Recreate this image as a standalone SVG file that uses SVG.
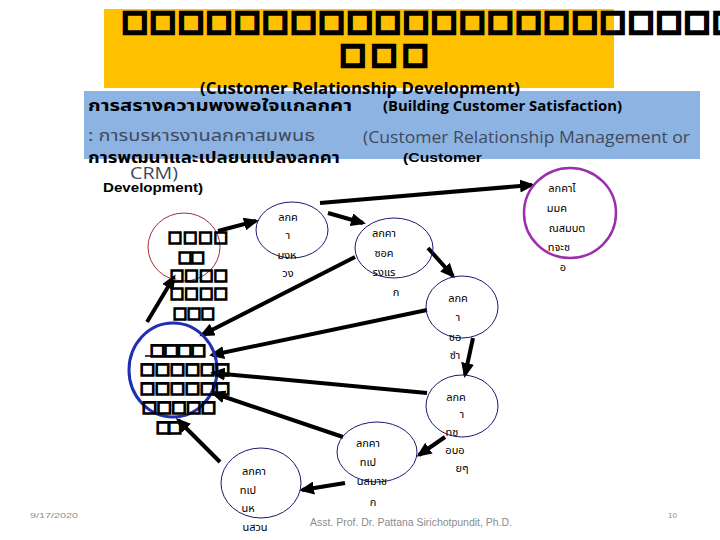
<svg xmlns="http://www.w3.org/2000/svg" width="720" height="540" viewBox="0 0 720 540">
<defs>
<marker id="ah" markerUnits="userSpaceOnUse" markerWidth="15" markerHeight="13" viewBox="0 0 15 13" refX="12" refY="6.5" orient="auto"><path d="M0,0 L15,6.5 L0,13 z" fill="#000"/></marker>
<style>
.tofu{font-family:'DejaVu Sans',sans-serif;fill:none;stroke:#000;}
.th{font-family:'Noto Sans Thai','Noto Sans','DejaVu Sans',sans-serif;font-size:11px;fill:#000;text-anchor:middle;}
.conn line{stroke:#000;stroke-width:4;marker-end:url(#ah);}
.nd{fill:none;stroke:#1a1a6e;stroke-width:1;}
</style>
</defs>
<rect width="720" height="540" fill="#fff"/>
<g id="title">
<rect x="104" y="9" width="510" height="79" fill="#FFC000"/>
<text class="tofu" x="122" y="30" font-size="27" stroke-width="3.6" textLength="616" lengthAdjust="spacing">□□□□□□□□□□□□□□□□□□□□□□</text>
<text class="tofu" x="340" y="63" font-size="27" stroke-width="3.6" textLength="88" lengthAdjust="spacing">□□□</text>
</g>
<g id="band">
<rect x="84" y="91" width="616" height="68" fill="#8DB3E2"/>
<text x="200" y="94" font-family="'Open Sans','Liberation Sans',sans-serif" font-weight="bold" font-size="16" textLength="320" lengthAdjust="spacingAndGlyphs">(Customer Relationship Development)</text>
<text x="88" y="111" class="th" style="text-anchor:start;font-size:16px;font-weight:bold" textLength="264" lengthAdjust="spacingAndGlyphs">การสรางความพงพอใจแกลกคา</text>
<text x="383" y="111" font-family="'Open Sans','Liberation Sans',sans-serif" font-weight="bold" font-size="15" textLength="239" lengthAdjust="spacingAndGlyphs">(Building Customer Satisfaction)</text>
<text x="88" y="141" class="th" style="text-anchor:start;font-size:16px;fill:#404a5e" textLength="227" lengthAdjust="spacingAndGlyphs">: การบรหารงานลกคาสมพนธ</text>
<text x="363" y="143" font-family="'Open Sans','Liberation Sans',sans-serif" font-size="17" fill="#404a5e" textLength="327" lengthAdjust="spacingAndGlyphs">(Customer Relationship Management or</text>
<text x="130" y="179" font-family="'Open Sans','Liberation Sans',sans-serif" font-size="17" fill="#404a5e" textLength="48" lengthAdjust="spacingAndGlyphs">CRM)</text>
<text x="88" y="163" class="th" style="text-anchor:start;font-size:15px;font-weight:bold" textLength="252" lengthAdjust="spacingAndGlyphs">การพฒนาและเปลยนแปลงลกคา</text>
<text x="403" y="162" font-family="'Liberation Sans',sans-serif" font-weight="bold" font-size="13" textLength="79" lengthAdjust="spacingAndGlyphs">(Customer</text>
<text x="103" y="192" font-family="'Liberation Sans',sans-serif" font-weight="bold" font-size="13" textLength="100" lengthAdjust="spacingAndGlyphs">Development)</text>
</g>
<g class="conn" id="connectors">
<line x1="147" y1="322" x2="174" y2="277"/>
<line x1="218" y1="231" x2="256" y2="221"/>
<line x1="328" y1="213" x2="363" y2="223"/>
<line x1="320" y1="203" x2="532" y2="185"/>
<line x1="428" y1="248" x2="453" y2="276"/>
<line x1="355" y1="257" x2="202" y2="335"/>
<line x1="427" y1="310" x2="212" y2="355"/>
<line x1="473" y1="338" x2="465" y2="375"/>
<line x1="427" y1="393" x2="213" y2="373"/>
<line x1="445" y1="437" x2="419" y2="455"/>
<line x1="343" y1="437" x2="213" y2="393"/>
<line x1="345" y1="483" x2="302" y2="490"/>
<line x1="220" y1="462" x2="178" y2="420"/>
</g>
<g id="n1">
<ellipse cx="184" cy="247" rx="36" ry="34" fill="none" stroke="#a0303c" stroke-width="1"/>
<g class="tofu" font-size="15" stroke-width="1.6">
<text x="168" y="242" textLength="60" lengthAdjust="spacing">□□□□</text>
<text x="178" y="262" textLength="27" lengthAdjust="spacing">□□</text>
<text x="170" y="280" textLength="58" lengthAdjust="spacing">□□□□</text>
<text x="170" y="298" textLength="58" lengthAdjust="spacing">□□□□</text>
<text x="173" y="318" textLength="42" lengthAdjust="spacing">□□□</text>
</g>
</g>
<g id="n2">
<ellipse class="nd" cx="292" cy="230" rx="36" ry="28"/>
<text class="th" x="288" y="221">ลกค</text>
<text class="th" x="288" y="239">า</text>
<text class="th" x="287" y="259">มงห</text>
<text class="th" x="288" y="277">วง</text>
</g>
<g id="n3">
<ellipse class="nd" cx="394" cy="248" rx="39" ry="30"/>
<text class="th" x="384" y="237">ลกคา</text>
<text class="th" x="384" y="257">ซอค</text>
<text class="th" x="384" y="276">รงแร</text>
<text class="th" x="396" y="296">ก</text>
</g>
<g id="n4">
<ellipse class="nd" cx="462" cy="307" rx="36" ry="31"/>
<text class="th" x="458" y="302">ลกค</text>
<text class="th" x="458" y="321">า</text>
<text class="th" x="455" y="341">ซอ</text>
<text class="th" x="455" y="359">ซำ</text>
</g>
<g id="n5">
<ellipse cx="570" cy="213" rx="46" ry="45" fill="none" stroke="#9b2fae" stroke-width="2.5"/>
<text class="th" x="562" y="192">ลกคาไ</text>
<text class="th" x="557" y="212">มมค</text>
<text class="th" x="567" y="232">ณสมบต</text>
<text class="th" x="559" y="251">ทจะซ</text>
<text class="th" x="563" y="271">อ</text>
</g>
<g id="n6">
<ellipse class="nd" cx="462" cy="406" rx="36" ry="31"/>
<text class="th" x="456" y="401">ลกค</text>
<text class="th" x="462" y="418">า</text>
<text class="th" x="452" y="436">ทซ</text>
<text class="th" x="455" y="454">อบอ</text>
<text class="th" x="462" y="472">ยๆ</text>
</g>
<g id="n7">
<ellipse class="nd" cx="377" cy="452" rx="40" ry="30"/>
<text class="th" x="368" y="447">ลกคา</text>
<text class="th" x="368" y="466">ทเป</text>
<text class="th" x="372" y="485">นสมาช</text>
<text class="th" x="373" y="506">ก</text>
</g>
<g id="n8">
<ellipse class="nd" cx="261" cy="483" rx="40" ry="35"/>
<text class="th" x="254" y="475">ลกคา</text>
<text class="th" x="248" y="494">ทเป</text>
<text class="th" x="248" y="512">นห</text>
<text class="th" x="255" y="531">นสวน</text>
</g>
<g id="n9">
<ellipse cx="173" cy="370" rx="44" ry="47" fill="none" stroke="#1f2fb0" stroke-width="3"/>
<g class="tofu" font-size="16" stroke-width="1.7">
<text x="150" y="355" textLength="56" lengthAdjust="spacing">□□□□</text>
<text x="140" y="374" textLength="90" lengthAdjust="spacing">□□□□□□</text>
<text x="140" y="393" textLength="90" lengthAdjust="spacing">□□□□□□</text>
<text x="142" y="412" textLength="74" lengthAdjust="spacing">□□□□□</text>
<text x="156" y="432" textLength="26" lengthAdjust="spacing">□□</text>
</g>
<line x1="145" y1="356" x2="176" y2="356" stroke="#000" stroke-width="1.5"/>
</g>
<g id="footer" font-family="'Liberation Sans',sans-serif" fill="#8c8c8c">
<text x="30" y="518" font-size="8" textLength="48" lengthAdjust="spacingAndGlyphs">9/17/2020</text>
<text x="668" y="518" font-size="8">10</text>
<text x="310" y="526" font-size="11" textLength="202" lengthAdjust="spacingAndGlyphs">Asst. Prof. Dr. Pattana Sirichotpundit, Ph.D.</text>
</g>
</svg>
